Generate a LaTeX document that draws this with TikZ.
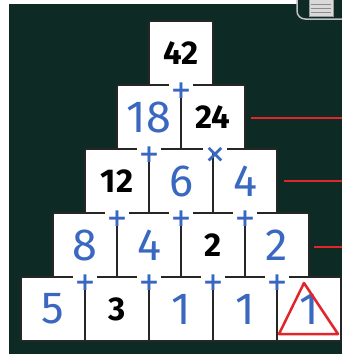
\documentclass[tikz,border=0pt]{standalone}
\usepackage{fontspec}
\setmainfont{Fira Sans}
\newfontfamily\opfont{DejaVu Sans}
\definecolor{board}{HTML}{0E2A25}
\definecolor{pen}{HTML}{3A68C0}
\definecolor{redpen}{HTML}{E0262B}
\begin{document}
\begin{tikzpicture}[x=1pt,y=-1pt,
  tile/.style={draw=black!85,line width=1.6pt,fill=white,minimum width=64pt,minimum height=64pt,inner sep=0pt,rounded corners=1pt},
  given/.style={font=\fontsize{33}{33}\selectfont\bfseries,text=black},
  found/.style={font=\fontsize{45}{45}\selectfont,text=pen},
  op/.style={font=\opfont\bfseries\fontsize{25}{25}\selectfont,text=pen,inner sep=0pt,yshift=-3pt},
  gap/.style={fill=white},
  redline/.style={draw=redpen,line width=2pt}]
\useasboundingbox (0,0) rectangle (342,354);
\fill[white] (0,0) rectangle (342,354);
\fill[board] (9,4) rectangle (342,354);
% icon
\draw[black!25,line width=1.5pt,fill=board,rounded corners=8pt] (297,-10) rectangle (352,19);
\draw[black!40,fill=black!15,line width=1pt] (309,-2) rectangle (333,16);
\foreach \yy in {4,8,12} \draw[black!45,line width=0.8pt] (311,\yy) -- (331,\yy);
% row 1
\node[tile,given] (a1) at (181,53) {42};
% row 2
\node[tile,found] (b1) at (149,117) {18};
\node[tile,given] (b2) at (213,117) {24};
% row 3
\node[tile,given] (c1) at (117,181) {12};
\node[tile,found] (c2) at (181,181) {6};
\node[tile,found] (c3) at (245,181) {4};
% row 4
\node[tile,found] (d1) at (85,245) {8};
\node[tile,found] (d2) at (149,245) {4};
\node[tile,given] (d3) at (213,245) {2};
\node[tile,found] (d4) at (277,245) {2};
% row 5
\node[tile,found] (e1) at (53,309) {5};
\node[tile,given] (e2) at (117,309) {3};
\node[tile,found] (e3) at (181,309) {1};
\node[tile,found] (e4) at (245,309) {1};
\node[tile,found] (e5) at (309,309) {1};
% operator positions
\coordinate (p1) at (181,88);
\coordinate (p2) at (149,152);
\coordinate (p3) at (215,152);
\coordinate (p4) at (117,216);
\coordinate (p5) at (181,216);
\coordinate (p6) at (245,216);
\coordinate (p7) at (85,280);
\coordinate (p8) at (149,280);
\coordinate (p9) at (213,280);
\coordinate (p10) at (277,280);
\foreach \p in {p1,p2,p3,p4,p5,p6,p7,p8,p9,p10}
  \fill[gap] ([shift={(-12,-6)}]\p) rectangle ([shift={(12,-1)}]\p);
\node[op] (o1) at (p1) {+};
\node[op] (o2) at (p2) {+};
\node[op] (o3) at (p3) {×};
\node[op] (o4) at (p4) {+};
\node[op] (o5) at (p5) {+};
\node[op] (o6) at (p6) {+};
\node[op] (o7) at (p7) {+};
\node[op] (o8) at (p8) {+};
\node[op] (o9) at (p9) {+};
\node[op] (o10) at (p10) {+};
% red lines
\coordinate (r2) at (342,118);
\coordinate (r3) at (342,181);
\coordinate (r4) at (342,247);
\draw[redline] ([xshift=5pt,yshift=-1pt]b2.east) -- (r2);
\draw[redline] ([xshift=6pt]c3.east) -- (r3);
\draw[redline] ([xshift=4pt,yshift=-2pt]d4.east) -- (r4);
% triangle
\coordinate (t1) at (304,283);
\coordinate (t2) at (279,334);
\coordinate (t3) at (338,334);
\draw[redpen,line width=2.5pt,line join=round] (t1) -- (t2) -- (t3) -- cycle;
\end{tikzpicture}
\end{document}
